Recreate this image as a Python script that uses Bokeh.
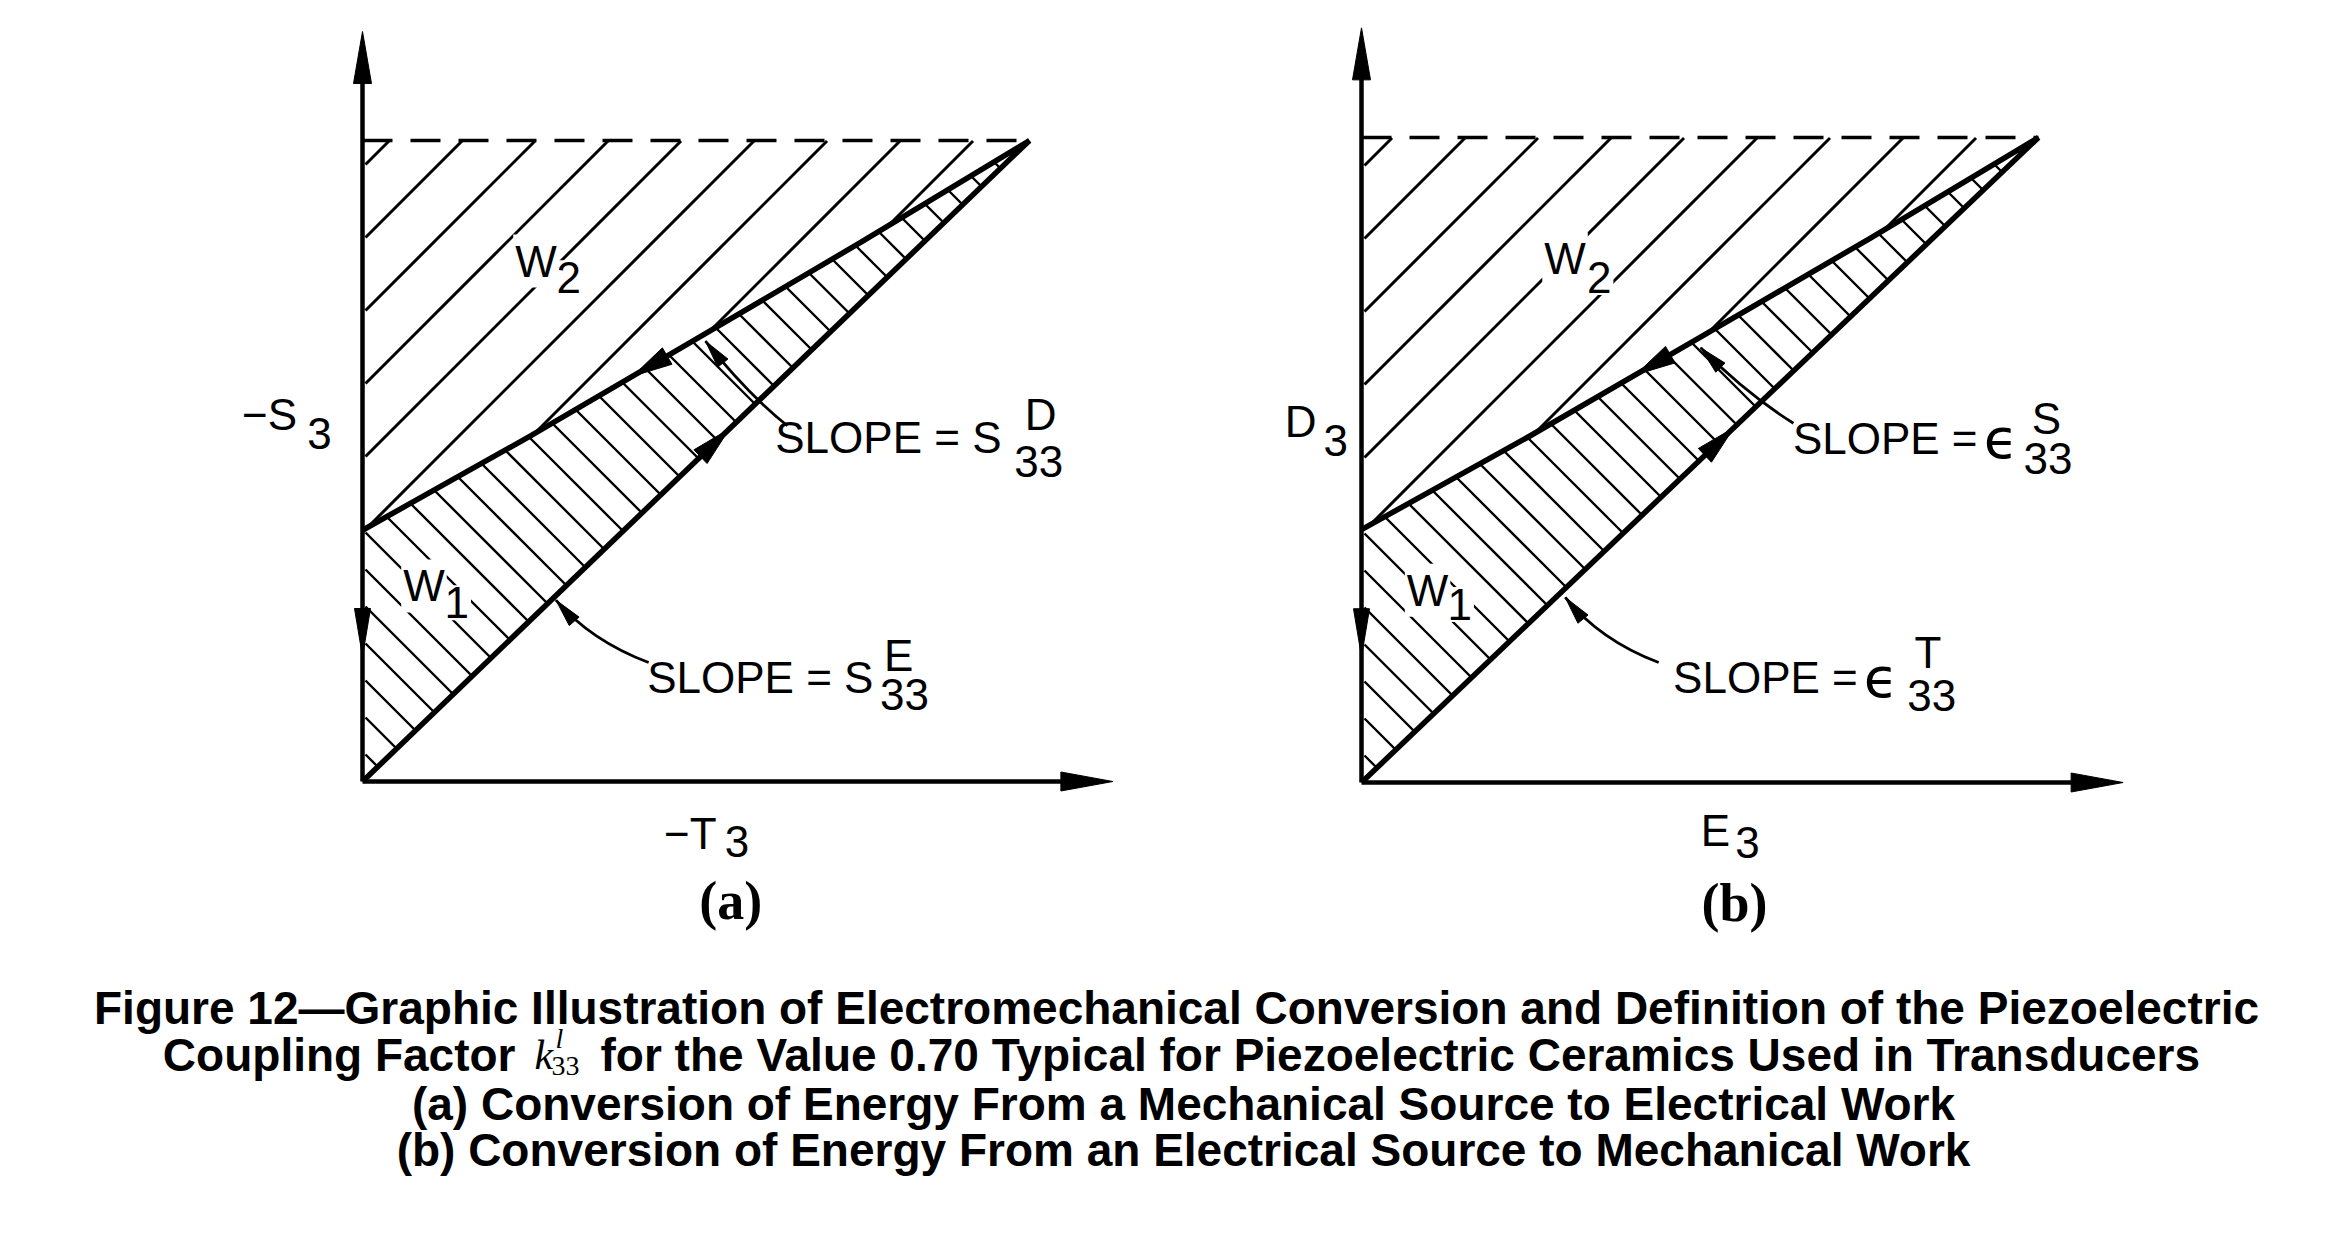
import numpy as np
from bokeh.plotting import figure
from bokeh.models import Range1d, Label
from bokeh.layouts import column, row
from bokeh.core.properties import value
from bokeh.embed import file_html
from bokeh.resources import INLINE

# ---------------- data (diagram units: axis corner = (0,0), apex = (1,1)) ----------------
lower_x = [0.0, 1.0]                      # slope s33^E  /  eps33^T
lower_y = [0.0, 1.0]
upper_x = [0.0, 0.25, 0.5, 0.75, 1.0]     # slope s33^D  /  eps33^S
upper_y = [0.392, 0.538, 0.690, 0.843, 1.0]
top_x = [0.0, 1.0]                        # dashed peak level
top_y = [1.0, 1.0]
y_axis_end = 1.17
x_axis_end = 1.125

panel_tags = ["(a)", "(b)"]
y_names = ["\u2212S", "D"]
x_names = ["\u2212T", "E"]
axis_subs = ["3", "3"]
upper_slope = ["SLOPE = S", "SLOPE ="]
lower_slope = ["SLOPE = S", "SLOPE ="]
eps_symbol = "\u03f5"
upper_sup = ["D", "S"]
lower_sup = ["E", "T"]
slope_sub = "33"
work_names = ["W", "W"]
work_subs = ["2", "1"]

caption_1 = "Figure 12\u2014Graphic Illustration of Electromechanical Conversion and Definition of the Piezoelectric"
caption_2a = "Coupling Factor"
caption_2k = ["k", "l", "33"]
caption_2b = "for the Value 0.70 Typical for Piezoelectric Ceramics Used in Transducers"
caption_3 = "(a) Conversion of Energy From a Mechanical Source to Electrical Work"
caption_4 = "(b) Conversion of Energy From an Electrical Source to Mechanical Work"

# ---------------- layout (pixels) ----------------
PW, PH = 1169, 940          # size of each panel figure
CAP_H = 1234 - PH
LAY = [
    dict(ox=362, oy=781, sx=667, sy=641),
    dict(ox=192, oy=782, sx=677, sy=645),
]
# label positions per panel (diagram units)
LBL = [
    dict(yname=(-0.098, 0.572), ysub=(-0.083, 0.543),
         xname=(0.452, -0.081), xsub=(0.543, -0.093),
         w2=(0.226, 0.812), w2s=(0.288, 0.786),
         w1=(0.058, 0.305), w1s=(0.120, 0.279),
         up=(0.958, 0.536), upsup=(0.993, 0.573), upsub=(0.977, 0.500),
         lo=(0.766, 0.163), losup=(0.782, 0.197), losub=(0.776, 0.135),
         eps_up=None, eps_lo=None,
         tag=(0.552, -0.187),
         lead_up=((0.637, 0.555), (0.5765, 0.6053), (0.5142, 0.687)),
         lead_lo=((0.429, 0.1856), (0.342, 0.220), (0.290, 0.283))),
    dict(yname=(-0.0665, 0.560), ysub=(-0.056, 0.530),
         xname=(0.501, -0.075), xsub=(0.552, -0.093),
         w2=(0.267, 0.812), w2s=(0.330, 0.783),
         w1=(0.064, 0.298), w1s=(0.124, 0.276),
         up=(0.910, 0.533), upsup=(0.990, 0.565), upsub=(0.978, 0.502),
         lo=(0.733, 0.163), losup=(0.817, 0.201), losub=(0.806, 0.135),
         eps_up=(0.919, 0.533), eps_lo=(0.742, 0.163),
         tag=(0.551, -0.187),
         lead_up=((0.638, 0.557), (0.568, 0.603), (0.501, 0.674)),
         lead_lo=((0.439, 0.186), (0.353, 0.220), (0.301, 0.287))),
]

LETTER_FONT = "Liberation Sans"
INK = "black"


def upper_f(x):
    return np.interp(x, upper_x, upper_y)


def lower_f(x):
    return np.interp(x, lower_x, lower_y)


def to_data(L, px, py):
    return (np.asarray(px) - L["ox"]) / L["sx"], (L["oy"] - np.asarray(py)) / L["sy"]


def to_px(L, x, y):
    return L["ox"] + np.asarray(x) * L["sx"], L["oy"] - np.asarray(y) * L["sy"]


def hatch(L, sign, spacing, phase_h, inside):
    px = np.arange(L["ox"] - 2, L["ox"] + L["sx"] + 2, 0.5)
    xs, ys = [], []
    for k in range(-60, 60):
        py0 = L["oy"] - phase_h + k * spacing
        py = py0 - sign * (px - L["ox"])
        xd, yd = to_data(L, px, py)
        m = inside(xd, yd)
        if not m.any():
            continue
        edges = np.flatnonzero(np.diff(np.concatenate([[0], m.astype(int), [0]])))
        for s, e in zip(edges[::2], edges[1::2]):
            if e - s < 3:
                continue
            xs.append([xd[s], xd[e - 1]])
            ys.append([yd[s], yd[e - 1]])
    return xs, ys


def head(L, tip, dir_px, length, width):
    d = np.array(dir_px, float)
    d /= np.hypot(d[0], d[1])
    n = np.array([-d[1], d[0]])
    tx, ty = to_px(L, tip[0], tip[1])
    t = np.array([float(tx), float(ty)])
    b = t - length * d
    pts = [t, b + n * width / 2, b - n * width / 2]
    hx, hy = to_data(L, [q[0] for q in pts], [q[1] for q in pts])
    return list(hx), list(hy)


def lab(p, text, xy, align="left", size="42px", font=LETTER_FONT, style="normal", bg=False):
    kw = dict(x=xy[0], y=xy[1], text=text, text_align=align, text_baseline="alphabetic",
              text_font=font, text_font_size=size, text_font_style=style, text_color=INK)
    if bg:
        kw.update(background_fill_color="white", background_fill_alpha=1.0, padding=2)
    p.add_layout(Label(**kw))


def make_panel(i):
    L, P = LAY[i], LBL[i]
    p = figure(width=PW, height=PH,
               x_range=Range1d(-L["ox"] / L["sx"], (PW - L["ox"]) / L["sx"]),
               y_range=Range1d(-(PH - L["oy"]) / L["sy"], L["oy"] / L["sy"]),
               output_backend="svg", toolbar_location=None,
               x_axis_location=None, y_axis_location=None, min_border=0,
               outline_line_color=None, background_fill_color="white",
               border_fill_color="white")
    p.grid.visible = False

    # hatching
    in_w2 = lambda x, y: (x > 0.004) & (x < 1) & (y < 1) & (y > upper_f(x))
    in_w1 = lambda x, y: (x > 0.004) & (x < 1) & (y < upper_f(x)) & (y > lower_f(x))
    hx, hy = hatch(L, +1, 73, 614, in_w2)
    p.multi_line(hx, hy, line_color=INK, line_width=3)
    hx, hy = hatch(L, -1, 37, 178, in_w1)
    p.multi_line(hx, hy, line_color=INK, line_width=2.4)

    # dashed peak line
    p.line(top_x, top_y, line_color=INK, line_width=3.5, line_dash="30 18")
    # axes
    p.line([0, 0], [0, y_axis_end - 0.04], line_color=INK, line_width=4.5)
    p.line([0, x_axis_end - 0.04], [0, 0], line_color=INK, line_width=4.5)
    # work-cycle boundaries
    p.line(lower_x, lower_y, line_color=INK, line_width=5.5, line_join="round")
    p.line(upper_x, upper_y, line_color=INK, line_width=5.5, line_join="round")

    heads_x, heads_y = [], []
    for tip, d, ln, wd in [
        ((0, y_axis_end), (0, -1), 52, 18),
        ((x_axis_end, 0), (1, 0), 52, 19),
        ((0, 0.195), (0, 1), 48, 16),
    ]:
        a, b = head(L, tip, d, ln, wd)
        heads_x.append(a); heads_y.append(b)
    # arrow on upper curve (toward origin)
    xu = 0.405
    tip = (xu, float(upper_f(xu)))
    dx = (-0.02 * L["sx"], -(float(upper_f(xu - 0.02)) - tip[1]) * L["sy"])
    a, b = head(L, tip, dx, 40, 19); heads_x.append(a); heads_y.append(b)
    # arrow on lower line (toward apex)
    xl = 0.55
    tip = (xl, float(lower_f(xl)))
    dx = (0.02 * L["sx"], -(float(lower_f(xl + 0.02)) - tip[1]) * L["sy"])
    a, b = head(L, tip, dx, 40, 19); heads_x.append(a); heads_y.append(b)

    # leader curves
    for key in ("lead_up", "lead_lo"):
        s, c, e = P[key]
        p.quadratic(x0=[s[0]], y0=[s[1]], x1=[e[0]], y1=[e[1]], cx=[c[0]], cy=[c[1]],
                    line_color=INK, line_width=2.8)
        dpx = ((e[0] - c[0]) * L["sx"], -(e[1] - c[1]) * L["sy"])
        a, b = head(L, e, dpx, 28, 13); heads_x.append(a); heads_y.append(b)

    p.patches(heads_x, heads_y, fill_color=INK, line_color=INK, line_width=1)

    # texts (subscripts of W drawn first so the main letter stays on top)
    lab(p, y_names[i], P["yname"], align="right", size="44px")
    lab(p, axis_subs[i], P["ysub"], size="44px")
    lab(p, x_names[i], P["xname"], size="44px")
    lab(p, axis_subs[i], P["xsub"], size="44px")
    lab(p, work_subs[0], P["w2s"], size="44px", bg=True)
    lab(p, work_names[0], P["w2"], size="44px", bg=True)
    lab(p, work_subs[1], P["w1s"], size="44px", bg=True)
    lab(p, work_names[1], P["w1"], size="44px", bg=True)
    lab(p, upper_slope[i], P["up"], align="right", size="44px")
    lab(p, upper_sup[i], P["upsup"], size="44px")
    lab(p, slope_sub, P["upsub"], size="44px")
    lab(p, lower_slope[i], P["lo"], align="right", size="44px")
    lab(p, lower_sup[i], P["losup"], size="44px")
    lab(p, slope_sub, P["losub"], size="44px")
    if P["eps_up"] is not None:
        lab(p, eps_symbol, P["eps_up"], size="56px", font="DejaVu Sans")
        lab(p, eps_symbol, P["eps_lo"], size="56px", font="DejaVu Sans")
    lab(p, panel_tags[i], P["tag"], align="center", size="54px",
        font="Liberation Serif", style="bold")
    return p


fa = make_panel(0)
fb = make_panel(1)

# ---------------- caption ----------------
cap = figure(width=2338, height=CAP_H, x_range=Range1d(0, 2338), y_range=Range1d(CAP_H, 0),
             output_backend="svg", toolbar_location=None, x_axis_location=None,
             y_axis_location=None, min_border=0, outline_line_color=None,
             background_fill_color="white", border_fill_color="white")
cap.grid.visible = False
CF = value("Liberation Sans")
CS = "46px"
cap.text(x=[1176, 1183, 1183], y=[67, 163, 209], text=[caption_1, caption_3, caption_4],
         text_align="center", text_baseline="alphabetic", text_font=CF,
         text_font_style="bold", text_font_size=CS, text_color=INK)
cap.text(x=[515], y=[114], text=[caption_2a], text_align="right", text_baseline="alphabetic",
         text_font=CF, text_font_style="bold", text_font_size=CS, text_color=INK)
cap.text(x=[600], y=[114], text=[caption_2b], text_align="left", text_baseline="alphabetic",
         text_font=CF, text_font_style="bold", text_font_size=CS, text_color=INK)
cap.text(x=[534], y=[114], text=[caption_2k[0]], text_align="left", text_baseline="alphabetic",
         text_font=value("Liberation Serif"), text_font_style="italic", text_font_size="42px",
         text_color=INK)
cap.text(x=[555], y=[98], text=[caption_2k[1]], text_align="left", text_baseline="alphabetic",
         text_font=value("Liberation Serif"), text_font_style="italic", text_font_size="28px",
         text_color=INK)
cap.text(x=[551], y=[125], text=[caption_2k[2]], text_align="left", text_baseline="alphabetic",
         text_font=value("Liberation Serif"), text_font_style="normal", text_font_size="28px",
         text_color=INK)

page = column(row(fa, fb), cap)
open("out.html", "w").write(file_html(page, INLINE))
